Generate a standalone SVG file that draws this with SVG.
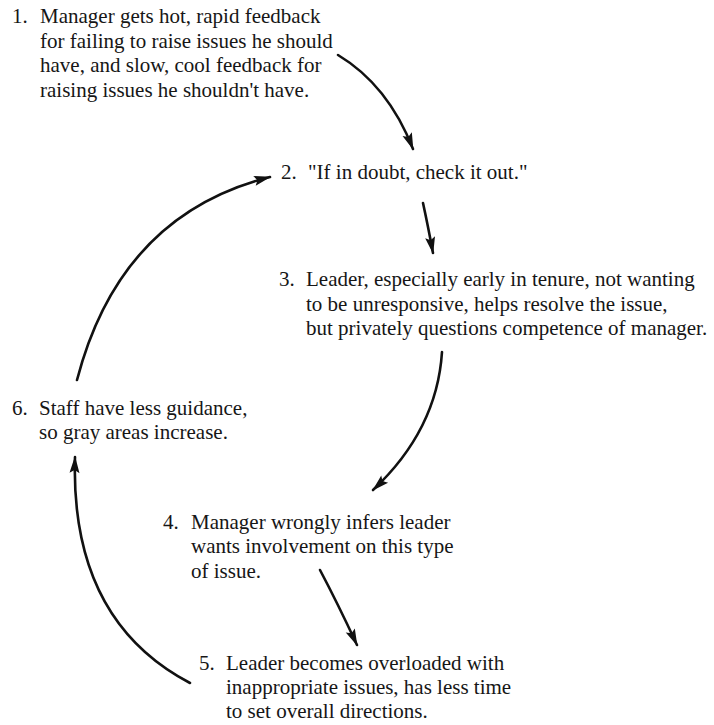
<svg xmlns="http://www.w3.org/2000/svg" width="714" height="725" viewBox="0 0 714 725">
<style>
text{font-family:"Liberation Serif","Times New Roman",serif;font-size:21px;fill:#161616}
.c{fill:none;stroke:#111;stroke-width:2.6;stroke-linecap:round}
</style>
<defs>
<marker id="ah" markerUnits="userSpaceOnUse" markerWidth="20" markerHeight="12" refX="16" refY="5" orient="auto" overflow="visible">
<path d="M0,0 L17,5 L0,10 L3,5 Z" fill="#111"/>
</marker>
</defs>
<rect width="714" height="725" fill="#fff"/>
<g id="connectors">
<path class="c" marker-end="url(#ah)" d="M338,55 Q388,85 413,149"/>
<path class="c" marker-end="url(#ah)" d="M423,203 Q428,226 433,253"/>
<path class="c" marker-end="url(#ah)" d="M442,352 Q437,430 373,490"/>
<path class="c" marker-end="url(#ah)" d="M320,570 Q338,604 357,645"/>
<path class="c" marker-end="url(#ah)" d="M190,683 Q70,620 75,457"/>
<path class="c" marker-end="url(#ah)" d="M77,380 Q120,215 270,177"/>
</g>
<g id="n1">
<text x="12" y="23">1.</text>
<text x="40" y="23">Manager gets hot, rapid feedback</text>
<text x="40" y="48">for failing to raise issues he should</text>
<text x="40" y="72">have, and slow, cool feedback for</text>
<text x="40" y="97">raising issues he shouldn't have.</text>
</g>
<g id="n2">
<text x="281" y="179">2.</text>
<text x="308" y="179">"If in doubt, check it out."</text>
</g>
<g id="n3">
<text x="279" y="286">3.</text>
<text x="306" y="286">Leader, especially early in tenure, not wanting</text>
<text x="306" y="311">to be unresponsive, helps resolve the issue,</text>
<text x="306" y="335">but privately questions competence of manager.</text>
</g>
<g id="n4">
<text x="163" y="529">4.</text>
<text x="191" y="529">Manager wrongly infers leader</text>
<text x="191" y="553">wants involvement on this type</text>
<text x="191" y="578">of issue.</text>
</g>
<g id="n5">
<text x="199" y="670">5.</text>
<text x="226" y="670">Leader becomes overloaded with</text>
<text x="226" y="694">inappropriate issues, has less time</text>
<text x="226" y="718">to set overall directions.</text>
</g>
<g id="n6">
<text x="12" y="415">6.</text>
<text x="39" y="415">Staff have less guidance,</text>
<text x="39" y="439">so gray areas increase.</text>
</g>
</svg>
